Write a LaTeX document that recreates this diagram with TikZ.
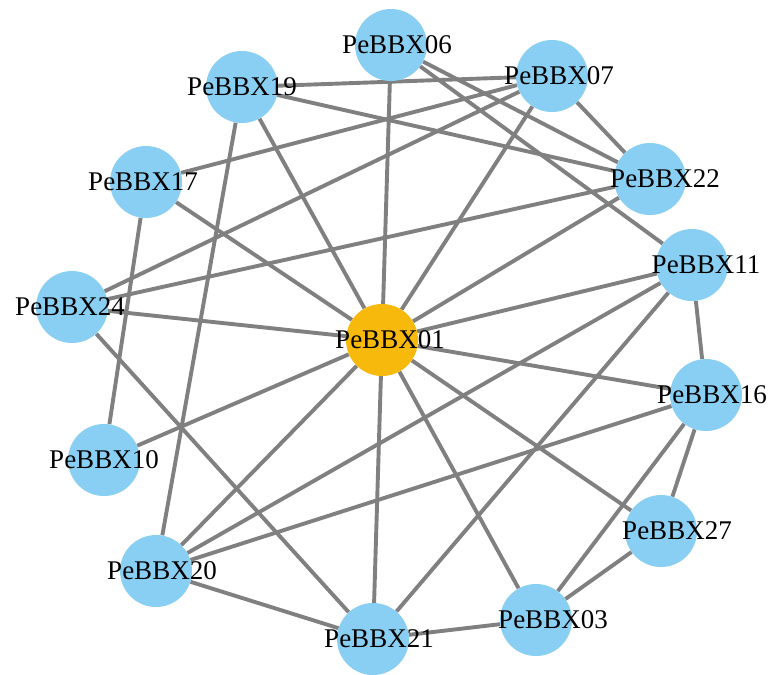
\documentclass[tikz,border=0pt]{standalone}
\usepackage{fontspec}
\setmainfont{Liberation Serif}
\usepackage{tikz}
\usetikzlibrary{backgrounds}
\definecolor{nodeblue}{RGB}{137, 207, 243}
\definecolor{hubgold}{RGB}{247, 185, 12}
\definecolor{linkgray}{RGB}{128, 128, 128}
\tikzset{vertex/.style = {circle, fill=nodeblue, inner sep = 0, minimum size = 72}}
\tikzset{hub/.style = {vertex, fill=hubgold}}
\tikzset{tag/.style = {inner sep = 0, font=\fontsize{27}{27}\selectfont}}
\tikzset{link/.style = {draw=linkgray, line width = 3.9}}

\begin{document}
\begin{tikzpicture}[x=1pt, y=-1pt]
      \useasboundingbox (0, 0) rectangle (772, 675);
      \node [hub, label={[tag, xshift=8]center:PeBBX01}] (x01) at (382, 340) {};
      \node [vertex, label={[tag, xshift=6]center:PeBBX06}] (x06) at (391, 45) {};
      \node [vertex, label={[tag, xshift=7]center:PeBBX07}] (x07) at (552, 76) {};
      \node [vertex, label={[tag]center:PeBBX19}] (x19) at (242, 87) {};
      \node [vertex, label={[tag, xshift=15]center:PeBBX22}] (x22) at (650, 179) {};
      \node [vertex, label={[tag, xshift=-3]center:PeBBX17}] (x17) at (146, 182) {};
      \node [vertex, label={[tag, xshift=14]center:PeBBX11}] (x11) at (692, 265) {};
      \node [vertex, label={[tag, xshift=-2]center:PeBBX24}] (x24) at (72, 307) {};
      \node [vertex, label={[tag, xshift=6]center:PeBBX16}] (x16) at (706, 395) {};
      \node [vertex, label={[tag]center:PeBBX10}] (x10) at (104, 460) {};
      \node [vertex, label={[tag, xshift=16]center:PeBBX27}] (x27) at (661, 531) {};
      \node [vertex, label={[tag, xshift=6]center:PeBBX20}] (x20) at (156, 571) {};
      \node [vertex, label={[tag, xshift=17]center:PeBBX03}] (x03) at (536, 620) {};
      \node [vertex, label={[tag, xshift=6]center:PeBBX21}] (x21) at (373, 639) {};
      \begin{pgfonlayer}{background}
        \foreach \a in {06, 07, 22, 11, 16, 27, 03, 21, 20, 10, 24, 17, 19}
          \draw [link] (x01) -- (x\a);
        \foreach \a/\b in {19/07, 19/22, 19/20, 06/22, 06/11, 07/17, 07/24, 07/22,
                           22/24, 11/16, 11/20, 11/21, 16/20, 16/27, 16/03,
                           27/03, 03/21, 21/20, 21/24, 17/10}
          \draw [link] (x\a) -- (x\b);
      \end{pgfonlayer}
    \end{tikzpicture}
\end{document}
